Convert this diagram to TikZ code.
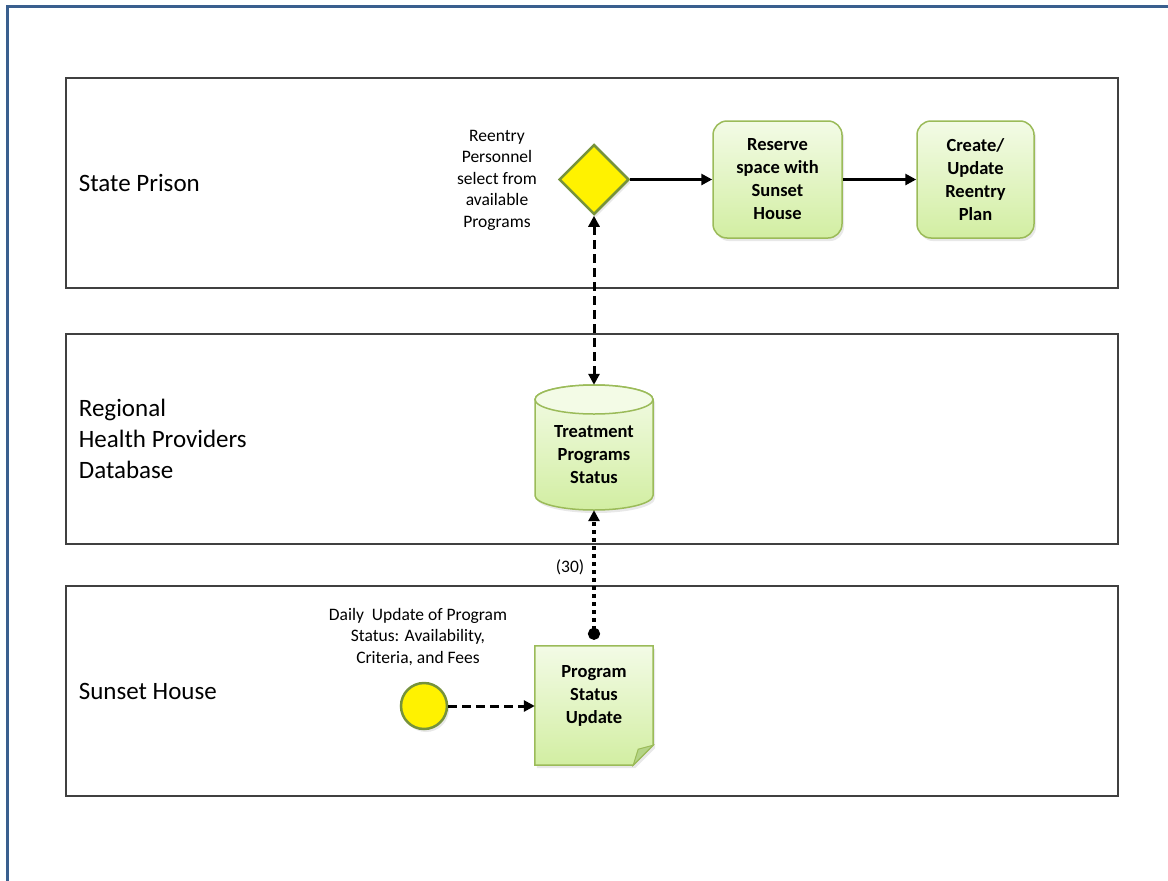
\documentclass[tikz,border=0pt]{standalone}
\usepackage{fontspec}
\setmainfont{Carlito}
\usetikzlibrary{positioning}
\usetikzlibrary{shapes.geometric}
\usetikzlibrary{arrows.meta}
\usetikzlibrary{calc}
\usetikzlibrary{shadows}
\usetikzlibrary{backgrounds}
\definecolor{frameblue}{HTML}{3A5F8E}
\definecolor{laneline}{HTML}{404040}
\definecolor{taskline}{HTML}{9BBB59}
\definecolor{tasktop}{HTML}{F3FBE6}
\definecolor{taskbot}{HTML}{D2EEA2}
\definecolor{taskfold}{HTML}{B4D486}
\definecolor{gateline}{HTML}{76923C}

\begin{document}
\begin{tikzpicture}[
  x=1pt, y=-1pt,
  lane/.style={draw=laneline, line width=1.3pt, minimum width=1052pt, minimum height=210pt},
  lanelabel/.style={anchor=west, align=left, font=\fontsize{25}{31}\selectfont},
  note/.style={align=center, font=\fontsize{17.5}{21.5}\selectfont},
  soft/.style={drop shadow={opacity=0.18, shadow xshift=2pt, shadow yshift=-3pt}},
  greenfill/.style={draw=taskline, line width=1.5pt, top color=tasktop, bottom color=taskbot},
  task/.style={soft, greenfill, rounded corners=14pt, minimum height=117pt,
    align=center, font=\fontsize{18.5}{23}\selectfont\bfseries},
  textbox/.style={minimum width=118pt, align=center,
    font=\fontsize{18.5}{23}\selectfont\bfseries},
  gate/.style={soft, diamond, draw=gateline, line width=2.5pt, fill=yellow,
    minimum width=70pt, minimum height=70pt, inner sep=0pt},
  event/.style={soft, circle, draw=gateline, line width=2.5pt, fill=yellow,
    minimum size=46pt, inner sep=0pt},
  tip/.style={-{Triangle[length=11pt, width=11pt]}},
  flow/.style={tip, line width=3pt},
  assoc/.style={{Triangle[length=11pt, width=11pt]}-{Triangle[length=11pt, width=11pt]},
    line width=3pt, dash pattern=on 9pt off 5pt},
  trigger/.style={tip, line width=3pt, dash pattern=on 9pt off 5pt},
  msg/.style={{Circle[length=12pt]}-{Triangle[length=11pt, width=11pt]},
    line width=4pt, dash pattern=on 4pt off 4pt}
]
\useasboundingbox (0,0) rectangle (1168,881);

% page frame
\draw[frameblue, line width=3pt] (7,900) -- (7,6) -- (1190,6);

% lanes
\node[lane] (prison) at (592,183) {};
\node[lane] (health) at (592,439) {};
\node[lane] (sunset) at (592,691) {};

\node[lanelabel] (prisonlbl) at ([xshift=10pt]prison.west) {State Prison};
\node[lanelabel] (healthlbl) at ([xshift=10pt]health.west) {Regional\\Health Providers\\Database};
\node[lanelabel] (sunsetlbl) at ([xshift=10pt]sunset.west) {Sunset House};

% State Prison
\node[gate] (gate) at (594,179.5) {};
\node[note] (gatenote) at (497,180) {Reentry\\Personnel\\select from\\available\\Programs};
\node[task, minimum width=129pt] (reserve) at (777.5,179.5) {Reserve\\space with\\Sunset\\House};
\node[task, minimum width=117pt] (plan) at (975.5,179.5) {Create/\\Update\\Reentry\\Plan};

% Regional Health Providers Database (cylinder drawn behind the text)
\node[textbox, minimum height=140pt] (db) at (594,455) {Treatment\\Programs\\Status};
\begin{scope}[on background layer]
  \draw[soft, greenfill]
    ($(db.center)+(-59,-55.5)$) -- ($(db.center)+(-59,40.5)$) arc (180:0:59 and 14.5)
    -- ($(db.center)+(59,-55.5)$) arc (0:-180:59 and 14.5) -- cycle;
  \draw[draw=taskline, line width=1.5pt, fill=tasktop]
    ($(db.center)+(0,-55.5)$) ellipse (59 and 14.5);
\end{scope}

% Sunset House
\node[event] (start) at (424,706) {};
\node[note] (startnote) at (418,637) {Daily\ \ Update of Program\\Status: Availability,\\Criteria, and Fees};
\node[textbox, minimum height=100pt] (doc) at (594,696) {Program\\Status\\Update};
\begin{scope}[on background layer]
  \draw[soft, greenfill]
    (doc.north west) -- (doc.north east) -- ($(doc.south east)+(0,-1)$)
    -- ($(doc.south east)+(-20,19)$) -- ($(doc.south west)+(0,19)$) -- cycle;
  \filldraw[fill=taskfold, draw=taskline, line width=1pt]
    ($(doc.south east)+(0,-1)$) -- ($(doc.south east)+(-15,3)$)
    -- ($(doc.south east)+(-20,19)$) -- cycle;
\end{scope}

% connectors
\draw[flow] (gate.east) -- (reserve.west);
\draw[flow] (reserve.east) -- (plan.west);
\draw[assoc] (gate.south) -- (db.north);
\draw[msg] ([yshift=6pt]doc.north) -- ([yshift=15pt]db.south);
\node[note] (freq) at (570,567) {(30)};
\draw[trigger] (start.east) -- (start.east -| doc.west);

\end{tikzpicture}
\end{document}
